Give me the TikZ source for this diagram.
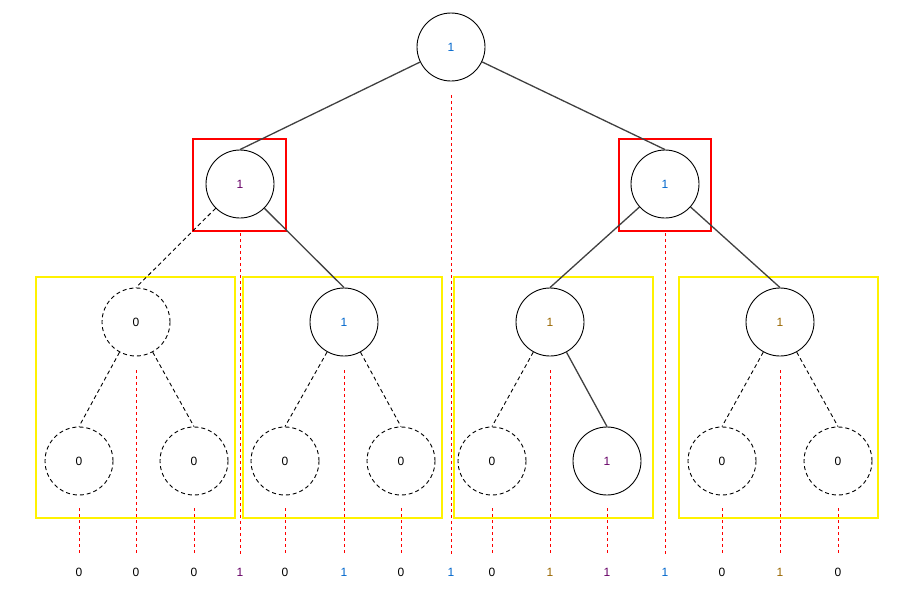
\documentclass[tikz,border=0pt]{standalone}
\usepackage{fontspec}
\setmainfont{Liberation Sans}
\definecolor{cblue}{HTML}{0066CC}
\definecolor{cpurple}{HTML}{660066}
\definecolor{cbrown}{HTML}{996600}
\definecolor{edgegray}{HTML}{404040}
\begin{document}
\begin{tikzpicture}[x=1pt,y=-1pt,
  every node/.style={font=\fontsize{12}{14}\selectfont},
  tnode/.style={circle,draw=black,line width=0.9pt,minimum size=68pt,inner sep=0pt},
  ghost/.style={tnode,dash pattern=on 4pt off 3pt},
  solidedge/.style={draw=edgegray,line width=1.3pt},
  ghostedge/.style={draw=black,line width=0.9pt,dash pattern=on 4pt off 3pt},
  redbox/.style={draw=red,line width=2pt},
  yellowbox/.style={draw=yellow,line width=2pt},
  reddash/.style={draw=red,line width=0.9pt,dash pattern=on 3pt off 3pt},
  lbl/.style={inner sep=0pt}]
\useasboundingbox (0,0) rectangle (899,592);
% boxes
\draw[yellowbox] (36,277) rectangle (235,518);
\draw[yellowbox] (243,277) rectangle (442,518);
\draw[yellowbox] (454,277) rectangle (653,518);
\draw[yellowbox] (679,277) rectangle (878,518);
\draw[redbox] (193,139) rectangle (286,231);
\draw[redbox] (619,139) rectangle (711,231);
% nodes
\node[tnode,text=cblue] (r) at (451,47) {1};
\node[tnode,text=cpurple] (a) at (240,184) {1};
\node[tnode,text=cblue] (b) at (665,184) {1};
\node[ghost] (c0) at (136,322) {0};
\node[tnode,text=cblue] (c1) at (344,322) {1};
\node[tnode,text=cbrown] (c2) at (550,322) {1};
\node[tnode,text=cbrown] (c3) at (780,322) {1};
\node[ghost] (d0) at (79,461) {0};
\node[ghost] (d1) at (194,461) {0};
\node[ghost] (d2) at (285,461) {0};
\node[ghost] (d3) at (401,461) {0};
\node[ghost] (d4) at (492,461) {0};
\node[tnode,text=cpurple] (d5) at (607,461) {1};
\node[ghost] (d6) at (722,461) {0};
\node[ghost] (d7) at (838,461) {0};
% edges
\draw[solidedge] (r) -- (a.north);
\draw[solidedge] (r) -- (b.north);
\draw[ghostedge] (a) -- (c0.north);
\draw[solidedge] (a) -- (c1.north);
\draw[solidedge] (b) -- (c2.north);
\draw[solidedge] (b) -- (c3.north);
\draw[ghostedge] (c0) -- (d0.north);
\draw[ghostedge] (c0) -- (d1.north);
\draw[ghostedge] (c1) -- (d2.north);
\draw[ghostedge] (c1) -- (d3.north);
\draw[ghostedge] (c2) -- (d4.north);
\draw[solidedge] (c2) -- (d5.north);
\draw[ghostedge] (c3) -- (d6.north);
\draw[ghostedge] (c3) -- (d7.north);
% bottom labels
\node[lbl] (l1) at (79,572) {0};
\node[lbl] (l2) at (136,572) {0};
\node[lbl] (l3) at (194,572) {0};
\node[lbl,text=cpurple] (l4) at (240,572) {1};
\node[lbl] (l5) at (285,572) {0};
\node[lbl,text=cblue] (l6) at (344,572) {1};
\node[lbl] (l7) at (401,572) {0};
\node[lbl,text=cblue] (l8) at (451,572) {1};
\node[lbl] (l9) at (492,572) {0};
\node[lbl,text=cbrown] (l10) at (550,572) {1};
\node[lbl,text=cpurple] (l11) at (607,572) {1};
\node[lbl,text=cblue] (l12) at (665,572) {1};
\node[lbl] (l13) at (722,572) {0};
\node[lbl,text=cbrown] (l14) at (780,572) {1};
\node[lbl] (l15) at (838,572) {0};
% red projection lines
\foreach \n/\l/\s in {d0/l1/13,c0/l2/14,d1/l3/13,a/l4/15,d2/l5/13,c1/l6/14,d3/l7/13,r/l8/14,d4/l9/13,c2/l10/14,d5/l11/13,b/l12/15,d6/l13/13,c3/l14/14,d7/l15/13}{
  \draw[reddash] ([yshift=-\s pt]\n.south) -- ([yshift=14pt]\l.north);
}
\end{tikzpicture}
\end{document}
